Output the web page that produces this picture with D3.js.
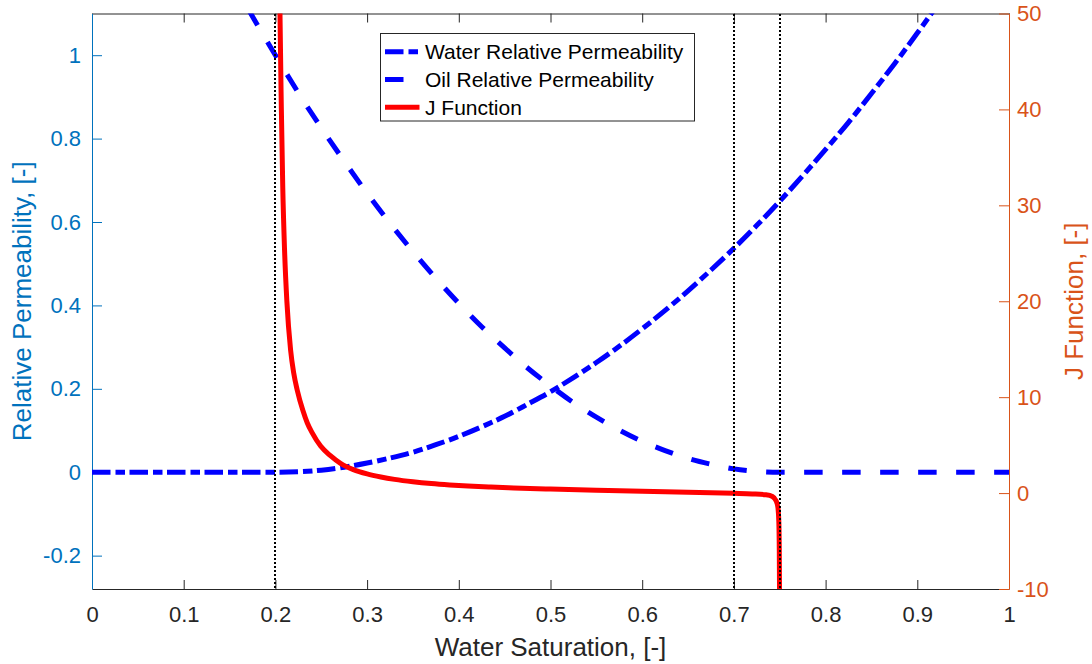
<!DOCTYPE html>
<html>
<head>
<meta charset="utf-8">
<script src="https://cdn.jsdelivr.net/npm/d3@7"></script>
<style>
  html, body { margin: 0; padding: 0; background: #ffffff; }
  svg { display: block; font-family: "Liberation Sans", Arial, Helvetica, sans-serif; }
</style>
</head>
<body>
<svg id="chart" width="1092" height="664"></svg>
<script>
// Water saturation samples and relative permeability curves
const waterSat = [0, 0.1, 0.2, 0.225, 0.25, 0.275, 0.3, 0.325, 0.35, 0.375, 0.4, 0.425, 0.45, 0.475,
  0.5, 0.525, 0.55, 0.575, 0.6, 0.625, 0.65, 0.675, 0.7, 0.725, 0.75, 0.775, 0.8, 0.825, 0.85,
  0.875, 0.9, 0.925, 0.95];
const waterKr = [0, 0, 0, 0.001, 0.005, 0.012, 0.022, 0.034, 0.048, 0.066, 0.086, 0.109, 0.134, 0.163,
  0.193, 0.227, 0.263, 0.302, 0.344, 0.388, 0.435, 0.485, 0.537, 0.592, 0.650, 0.711, 0.774, 0.839, 0.908,
  0.979, 1.053, 1.130, 1.209];

const oilSat = [0.15, 0.175, 0.2, 0.225, 0.25, 0.275, 0.3, 0.325, 0.35, 0.375, 0.4, 0.425, 0.45, 0.475,
  0.5, 0.525, 0.55, 0.575, 0.6, 0.625, 0.65, 0.675, 0.7, 0.725, 0.75, 0.8, 0.85, 0.9, 0.95, 1.0];
const oilKr = [1.19, 1.093, 1.0, 0.91, 0.826, 0.746, 0.669, 0.597, 0.529, 0.465, 0.405, 0.349, 0.298, 0.25,
  0.207, 0.167, 0.132, 0.101, 0.074, 0.052, 0.033, 0.019, 0.008, 0.002, 0, 0, 0, 0, 0, 0];

// Leverett J function
const jSat = [0.2045, 0.205, 0.2065, 0.208, 0.21, 0.2125, 0.2166, 0.22, 0.2239, 0.23, 0.2348, 0.24,
  0.2493, 0.26, 0.271, 0.285, 0.3, 0.315, 0.33, 0.35, 0.37, 0.39, 0.41, 0.435, 0.46, 0.5, 0.55, 0.6,
  0.65, 0.7, 0.72, 0.735, 0.742, 0.746, 0.748, 0.749, 0.7495, 0.7498];
const jValue = [55, 50, 40, 32, 25.3, 20, 14.9, 12.5, 10.7, 8.6, 7.3, 6.3,
  4.9, 3.9, 3.1, 2.45, 2.0, 1.68, 1.43, 1.18, 0.99, 0.85, 0.74, 0.63, 0.54, 0.42, 0.3, 0.19,
  0.08, -0.03, -0.09, -0.18, -0.36, -0.8, -1.5, -3, -6, -11];

// Saturation end points marked with vertical reference lines
const markerSat = [0.2, 0.7, 0.75];

// Axis ticks
const xTicks = [0, 0.1, 0.2, 0.3, 0.4, 0.5, 0.6, 0.7, 0.8, 0.9, 1];
const krTicks = [-0.2, 0, 0.2, 0.4, 0.6, 0.8, 1];
const jTicks = [-10, 0, 10, 20, 30, 40, 50];

const seriesNames = ["Water Relative Permeability", "Oil Relative Permeability", "J Function"];

const BLUE_AXIS = "#0072BD", ORANGE_AXIS = "#D95319", DARK = "#262626";
const LINE_BLUE = "#0000FF", LINE_RED = "#FF0000";
const DASHDOT = "18.5,5,9.5,4.5";
const DASHED = "18.5,19.5";

const plot = { left: 92, right: 1009, top: 13.5, bottom: 589 };
const svg = d3.select("#chart");

const x = d3.scaleLinear().domain([0, 1]).range([plot.left, plot.right]);
const yKr = d3.scaleLinear().domain([-0.28, 1.1]).range([plot.bottom, plot.top]);
const yJ = d3.scaleLinear().domain([-10, 50]).range([plot.bottom, plot.top]);

const fmt = d => String(+(+d).toFixed(2));

svg.append("defs").append("clipPath").attr("id", "plotClip")
  .append("rect")
  .attr("x", plot.left).attr("y", plot.top)
  .attr("width", plot.right - plot.left).attr("height", plot.bottom - plot.top);

// Axes
const gx = svg.append("g").attr("transform", `translate(0,${plot.bottom})`)
  .call(d3.axisBottom(x).tickValues(xTicks).tickFormat(fmt).tickSizeInner(-9).tickSizeOuter(0).tickPadding(17.5));
gx.selectAll("path, line").attr("stroke", DARK);
gx.selectAll("text").attr("fill", DARK).style("font-size", "22px");

const gxTop = svg.append("g").attr("transform", `translate(0,${plot.top})`)
  .call(d3.axisTop(x).tickValues(xTicks).tickFormat("").tickSizeInner(-9).tickSizeOuter(0));
gxTop.selectAll("path, line").attr("stroke", DARK);

const gl = svg.append("g").attr("transform", `translate(${plot.left},0)`)
  .call(d3.axisLeft(yKr).tickValues(krTicks).tickFormat(fmt).tickSizeInner(-10).tickSizeOuter(0).tickPadding(11));
gl.selectAll("path, line").attr("stroke", BLUE_AXIS);
gl.selectAll("text").attr("fill", BLUE_AXIS).style("font-size", "22px");

const gr = svg.append("g").attr("transform", `translate(${plot.right},0)`)
  .call(d3.axisRight(yJ).tickValues(jTicks).tickFormat(fmt).tickSizeInner(-10).tickSizeOuter(0).tickPadding(8));
gr.selectAll("path, line").attr("stroke", ORANGE_AXIS);
gr.selectAll("text").attr("fill", ORANGE_AXIS).style("font-size", "22px");

svg.selectAll(".domain").attr("stroke-width", 1);

// Axis titles
svg.append("text")
  .attr("x", (plot.left + plot.right) / 2).attr("y", 655.5)
  .attr("text-anchor", "middle").attr("fill", DARK).style("font-size", "26px")
  .text("Water Saturation, [-]");

svg.append("text")
  .attr("transform", `translate(31,${(plot.top + plot.bottom) / 2}) rotate(-90)`)
  .attr("text-anchor", "middle").attr("fill", BLUE_AXIS).style("font-size", "26px")
  .text("Relative Permeability, [-]");

svg.append("text")
  .attr("transform", `translate(1083,${(plot.top + plot.bottom) / 2}) rotate(-90)`)
  .attr("text-anchor", "middle").attr("fill", ORANGE_AXIS).style("font-size", "26px")
  .text("J Function, [-]");

// Curves
const plotArea = svg.append("g").attr("clip-path", "url(#plotClip)");

const krLine = d3.line().x(d => x(d[0])).y(d => yKr(d[1])).curve(d3.curveMonotoneX);
const jLine = d3.line().x(d => x(d[0])).y(d => yJ(d[1])).curve(d3.curveMonotoneX);

plotArea.append("path")
  .attr("d", krLine(d3.zip(waterSat, waterKr)))
  .attr("fill", "none").attr("stroke", LINE_BLUE).attr("stroke-width", 5)
  .attr("stroke-dasharray", DASHDOT);

plotArea.append("path")
  .attr("d", krLine(d3.zip(oilSat, oilKr)))
  .attr("fill", "none").attr("stroke", LINE_BLUE).attr("stroke-width", 5)
  .attr("stroke-dasharray", DASHED);

plotArea.append("path")
  .attr("d", jLine(d3.zip(jSat, jValue)))
  .attr("fill", "none").attr("stroke", LINE_RED).attr("stroke-width", 5)
  .attr("stroke-linejoin", "round");

// Vertical reference lines (dotted, pixel-aligned)
plotArea.selectAll("line.marker").data(markerSat).join("line")
  .attr("class", "marker")
  .attr("x1", d => Math.round(x(d))).attr("x2", d => Math.round(x(d)))
  .attr("y1", plot.top).attr("y2", plot.bottom)
  .attr("stroke", "#000000").attr("stroke-width", 2).attr("stroke-dasharray", "2,2")
  .attr("shape-rendering", "crispEdges");

// Legend
const legend = svg.append("g");
legend.append("rect")
  .attr("x", 380.5).attr("y", 33.5).attr("width", 314).attr("height", 87.5)
  .attr("fill", "#ffffff").attr("stroke", DARK).attr("stroke-width", 1);

const legendStyles = [
  { color: LINE_BLUE, dash: DASHDOT },
  { color: LINE_BLUE, dash: DASHED },
  { color: LINE_RED, dash: null }
];
const rowY = [51.7, 79.5, 107.3];

seriesNames.forEach((name, i) => {
  const g = legend.append("g").attr("transform", `translate(0,${rowY[i]})`);
  const l = g.append("line")
    .attr("x1", 385).attr("x2", 419.5).attr("y1", 0).attr("y2", 0)
    .attr("stroke", legendStyles[i].color).attr("stroke-width", 5);
  if (legendStyles[i].dash) l.attr("stroke-dasharray", legendStyles[i].dash);
  g.append("text")
    .attr("x", 425).attr("y", 0).attr("dy", "0.35em")
    .attr("fill", "#000000").style("font-size", "21px")
    .text(name);
});
</script>
</body>
</html>
